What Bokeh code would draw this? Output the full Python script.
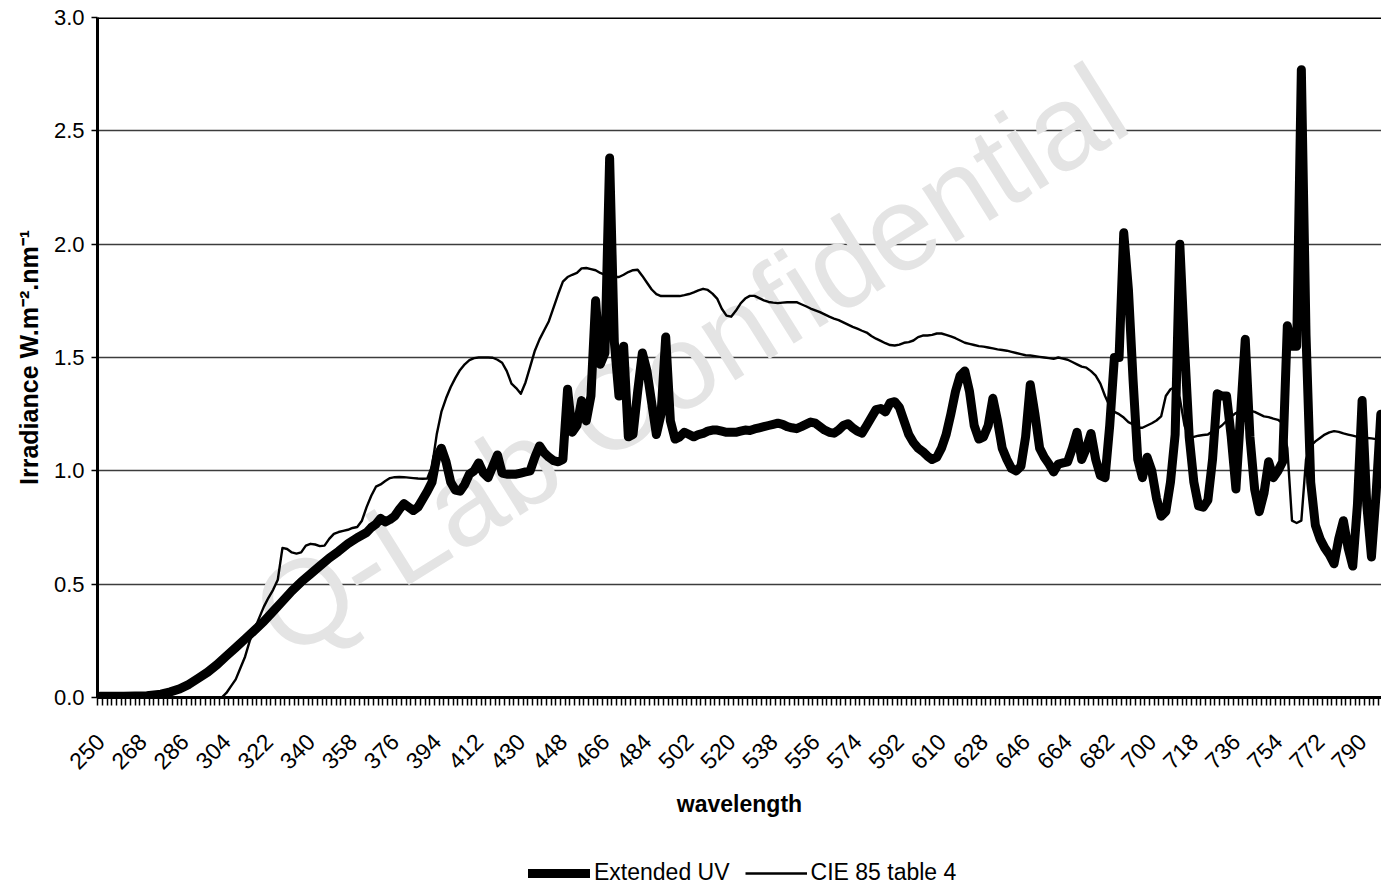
import math
from bokeh.plotting import figure
from bokeh.layouts import column
from bokeh.models import Range1d, FixedTicker, Span, Label, PrintfTickFormatter
from bokeh.embed import file_html
from bokeh.resources import INLINE

# ---------------- data ----------------
categories = list(range(250, 800, 2))          # wavelength categories (nm)
x_tick_labels = categories[::9]                 # 250, 268, ..., 790
y_ticks = [0.0, 0.5, 1.0, 1.5, 2.0, 2.5, 3.0]

ext_wl = [250, 260, 270, 276, 280, 284, 288, 292, 296, 300, 304, 308, 312, 316, 320,
          324, 328, 332, 336, 340, 344, 348, 352, 356, 360, 364, 366, 368, 370, 372,
          374, 376, 378, 380, 382, 384, 386, 388, 390, 392, 394, 396, 398, 400, 402,
          404, 406, 408, 410, 412, 414, 416, 418, 420, 422, 424, 426, 428, 430, 432,
          434, 436, 438, 440, 442, 444, 446, 448, 450, 452, 454, 456, 458, 460, 462,
          464, 466, 468, 470, 472, 474, 476, 478, 480, 482, 484, 486, 488, 490, 492,
          494, 496, 498, 500, 502, 504, 506, 508, 510, 512, 514, 516, 518, 520, 522,
          524, 526, 528, 530, 532, 534, 536, 538, 540, 542, 544, 546, 548, 550, 552,
          554, 556, 558, 560, 562, 564, 566, 568, 570, 572, 574, 576, 578, 580, 582,
          584, 586, 588, 590, 592, 594, 596, 598, 600, 602, 604, 606, 608, 610, 612,
          614, 616, 618, 620, 622, 624, 626, 628, 630, 632, 634, 636, 638, 640, 642,
          644, 646, 648, 650, 652, 654, 656, 658, 660, 662, 664, 666, 668, 670, 672,
          674, 676, 678, 680, 682, 684, 686, 688, 690, 692, 694, 696, 698, 700, 702,
          704, 706, 708, 710, 712, 714, 716, 718, 720, 722, 724, 726, 728, 730, 732,
          734, 736, 738, 740, 742, 744, 746, 748, 750, 752, 754, 756, 758, 760, 762,
          764, 766, 768, 770, 772, 774, 776, 778, 780, 782, 784, 786, 788, 790, 792,
          794, 796, 798]
ext_irr = [0.005, 0.005, 0.008, 0.015, 0.025, 0.038, 0.058, 0.085, 0.112, 0.145, 0.183, 0.22, 0.258, 0.296, 0.335,
           0.38, 0.425, 0.47, 0.51, 0.545, 0.58, 0.615, 0.645, 0.678, 0.705, 0.728, 0.75, 0.765, 0.79, 0.775,
           0.785, 0.80, 0.83, 0.855, 0.84, 0.825, 0.84, 0.875, 0.91, 0.95, 1.06, 1.10, 1.04, 0.95, 0.915,
           0.91, 0.94, 0.985, 1.0, 1.035, 0.99, 0.97, 1.02, 1.07, 0.99, 0.985, 0.985, 0.985, 0.99, 0.995,
           1.0, 1.06, 1.11, 1.08, 1.06, 1.045, 1.04, 1.05, 1.36, 1.17, 1.20, 1.31, 1.22, 1.33, 1.75,
           1.47, 1.52, 2.38, 1.57, 1.33, 1.55, 1.15, 1.16, 1.35, 1.52, 1.44, 1.30, 1.16, 1.25, 1.59,
           1.22, 1.14, 1.15, 1.17, 1.16, 1.15, 1.16, 1.165, 1.175, 1.18, 1.18, 1.175, 1.17, 1.17, 1.17,
           1.175, 1.18, 1.178, 1.185, 1.19, 1.195, 1.2, 1.205, 1.21, 1.205, 1.195, 1.19, 1.186, 1.195, 1.205,
           1.215, 1.21, 1.195, 1.18, 1.17, 1.166, 1.18, 1.2, 1.208, 1.19, 1.175, 1.166, 1.20, 1.235, 1.27,
           1.275, 1.26, 1.30, 1.305, 1.28, 1.22, 1.16, 1.125, 1.10, 1.085, 1.065, 1.05, 1.06, 1.10, 1.16,
           1.25, 1.35, 1.42, 1.44, 1.35, 1.20, 1.14, 1.15, 1.20, 1.32, 1.22, 1.10, 1.05, 1.01, 1.0,
           1.02, 1.15, 1.38, 1.25, 1.10, 1.06, 1.03, 0.995, 1.03, 1.035, 1.04, 1.10, 1.17, 1.05, 1.10,
           1.165, 1.05, 0.98, 0.97, 1.20, 1.50, 1.50, 2.05, 1.80, 1.40, 1.05, 0.97, 1.06, 1.0, 0.88,
           0.80, 0.82, 0.95, 1.16, 2.0, 1.55, 1.15, 0.95, 0.845, 0.84, 0.87, 1.05, 1.34, 1.33, 1.33,
           1.15, 0.92, 1.25, 1.58, 1.15, 0.92, 0.82, 0.90, 1.04, 0.97, 1.0, 1.04, 1.64, 1.55, 1.55,
           2.77, 1.60, 0.95, 0.76, 0.70, 0.66, 0.63, 0.59, 0.70, 0.78, 0.66, 0.58, 0.85, 1.31, 0.85,
           0.62, 0.90, 1.25]

cie_wl = [250, 300, 302, 304, 306, 308, 310, 312, 314, 316, 318, 320, 322, 324, 326,
          328, 330, 332, 334, 336, 338, 340, 342, 344, 346, 348, 350, 352, 354, 356,
          358, 360, 362, 364, 366, 368, 370, 372, 374, 376, 378, 380, 382, 384, 386,
          388, 390, 392, 394, 396, 398, 400, 402, 404, 406, 408, 410, 412, 414, 416,
          418, 420, 422, 424, 426, 428, 430, 432, 434, 436, 438, 440, 442, 444, 446,
          448, 450, 452, 454, 456, 458, 460, 462, 464, 466, 468, 470, 472, 474, 476,
          478, 480, 482, 484, 486, 488, 490, 492, 494, 496, 498, 500, 502, 504, 506,
          508, 510, 512, 514, 516, 518, 520, 522, 524, 526, 528, 530, 532, 534, 536,
          538, 540, 542, 544, 546, 548, 550, 552, 554, 556, 558, 560, 562, 564, 566,
          568, 570, 572, 574, 576, 578, 580, 582, 584, 586, 588, 590, 592, 594, 596,
          598, 600, 602, 604, 606, 608, 610, 612, 614, 616, 618, 620, 622, 624, 626,
          628, 630, 632, 634, 636, 638, 640, 642, 644, 646, 648, 650, 652, 654, 656,
          658, 660, 662, 664, 666, 668, 670, 672, 674, 676, 678, 680, 682, 684, 686,
          688, 690, 692, 694, 696, 698, 700, 702, 704, 706, 708, 710, 712, 714, 716,
          718, 720, 722, 724, 726, 728, 730, 732, 734, 736, 738, 740, 742, 744, 746,
          748, 750, 752, 754, 756, 758, 760, 762, 764, 766, 768, 770, 772, 774, 776,
          778, 780, 782, 784, 786, 788, 790, 792, 794, 796, 798]
cie_irr = [0.0, 0.0, 0.0, 0.02, 0.05, 0.08, 0.13, 0.18, 0.25, 0.30, 0.35, 0.40, 0.44, 0.475, 0.52,
           0.66, 0.655, 0.64, 0.635, 0.64, 0.67, 0.678, 0.675, 0.668, 0.67, 0.70, 0.722, 0.73, 0.735, 0.74,
           0.748, 0.752, 0.78, 0.84, 0.89, 0.93, 0.94, 0.955, 0.968, 0.972, 0.973, 0.972, 0.97, 0.968, 0.966,
           0.965, 0.966, 1.02, 1.16, 1.26, 1.32, 1.37, 1.41, 1.445, 1.47, 1.488, 1.497, 1.5, 1.5, 1.5,
           1.499, 1.49, 1.477, 1.44, 1.385, 1.365, 1.34, 1.39, 1.46, 1.53, 1.58, 1.62, 1.66, 1.72, 1.78,
           1.835, 1.855, 1.865, 1.873, 1.893, 1.895, 1.89, 1.885, 1.873, 1.865, 1.858, 1.855, 1.855, 1.865, 1.877,
           1.885, 1.887, 1.86, 1.83, 1.80, 1.78, 1.771, 1.771, 1.771, 1.771, 1.771, 1.775, 1.78, 1.787, 1.796,
           1.803, 1.798, 1.782, 1.76, 1.715, 1.685, 1.68, 1.706, 1.738, 1.76, 1.772, 1.772, 1.762, 1.752, 1.745,
           1.742, 1.74, 1.742, 1.744, 1.744, 1.744, 1.735, 1.726, 1.716, 1.708, 1.70, 1.69, 1.68, 1.672, 1.665,
           1.655, 1.645, 1.635, 1.627, 1.618, 1.61, 1.595, 1.583, 1.573, 1.563, 1.555, 1.553, 1.557, 1.565, 1.568,
           1.575, 1.59, 1.597, 1.597, 1.60, 1.606, 1.606, 1.60, 1.593, 1.585, 1.575, 1.565, 1.56, 1.555, 1.55,
           1.548, 1.544, 1.54, 1.536, 1.533, 1.53, 1.525, 1.52, 1.515, 1.51, 1.509, 1.506, 1.503, 1.50, 1.497,
           1.494, 1.50, 1.495, 1.49, 1.48, 1.47, 1.46, 1.455, 1.44, 1.42, 1.385, 1.33, 1.285, 1.26, 1.25,
           1.235, 1.215, 1.205, 1.19, 1.19, 1.20, 1.21, 1.222, 1.24, 1.33, 1.36, 1.37, 1.32, 1.20, 1.145,
           1.15, 1.155, 1.158, 1.16, 1.175, 1.185, 1.20, 1.22, 1.24, 1.255, 1.265, 1.27, 1.265, 1.26, 1.25,
           1.24, 1.237, 1.23, 1.225, 1.21, 1.10, 0.78, 0.77, 0.78, 1.05, 1.11, 1.13, 1.145, 1.16, 1.17,
           1.175, 1.172, 1.165, 1.16, 1.155, 1.15, 1.147, 1.145, 1.143, 1.14, 1.14]

series_names = ["Extended UV", "CIE 85 table 4"]
x_title = "wavelength"
y_title = "Irradiance W.m\u207b\u00b2.nm\u207b\u00b9"
watermark = "Q-Lab Confidential"

FONT = "Liberation Sans"
EXT_W = 9
CIE_W = 2.4

# ---------------- main chart ----------------
p = figure(width=1381, height=840, output_backend="svg", toolbar_location=None,
           x_range=Range1d(248.85, 798.3), y_range=Range1d(0, 3.0),
           min_border_left=97, min_border_right=0, min_border_top=17, min_border_bottom=143)
p.outline_line_color = None
p.background_fill_color = "white"
p.border_fill_color = "white"

# watermark (under everything, kept inside the plot area)
wm = Label(x=502, y=1.49, text=watermark, angle=0.56, text_align="center",
           text_baseline="middle", text_font=FONT, text_font_size="120px",
           text_color="#e4e4e4", level="underlay")
p.add_layout(wm)

p.xgrid.visible = False
p.ygrid.ticker = FixedTicker(ticks=y_ticks)
p.ygrid.grid_line_color = "#3c3c3c"
p.ygrid.grid_line_width = 1.3

p.line(ext_wl, ext_irr, line_width=EXT_W, line_color="black", line_join="round", line_cap="round")
p.line(cie_wl, cie_irr, line_width=CIE_W, line_color="black", line_join="round")

p.add_layout(Span(location=3.0, dimension="width", line_color="black", line_width=3))

ya = p.yaxis[0]
ya.ticker = FixedTicker(ticks=y_ticks)
ya.formatter = PrintfTickFormatter(format="%.1f")
ya.major_label_text_font = FONT
ya.major_label_text_font_size = "22px"
ya.major_label_text_color = "black"
ya.axis_line_width = 3
ya.axis_line_color = "black"
ya.major_tick_out = 6
ya.major_tick_in = 0
ya.major_tick_line_width = 1.5
ya.minor_tick_out = 0
ya.minor_tick_in = 0
ya.major_label_standoff = 7
ya.axis_label = y_title
ya.axis_label_text_font = FONT
ya.axis_label_text_font_size = "25px"
ya.axis_label_text_font_style = "bold"
ya.axis_label_text_color = "black"
ya.axis_label_standoff = 8

xa = p.xaxis[0]
xa.ticker = FixedTicker(ticks=x_tick_labels,
                        minor_ticks=[c - 1 for c in categories] + [categories[-1] + 1])
xa.major_label_orientation = math.pi / 4
xa.major_label_text_font = FONT
xa.major_label_text_font_size = "23px"
xa.major_label_text_color = "black"
xa.major_tick_out = 0
xa.major_tick_in = 0
xa.minor_tick_out = 8
xa.minor_tick_in = 0
xa.minor_tick_line_color = "black"
xa.minor_tick_line_width = 1.5
xa.axis_line_width = 3
xa.axis_line_color = "black"
xa.major_label_standoff = 32
xa.axis_label = x_title
xa.axis_label_text_font = FONT
xa.axis_label_text_font_size = "23px"
xa.axis_label_text_font_style = "bold"
xa.axis_label_text_color = "black"
xa.axis_label_standoff = 11

# ---------------- legend strip below the chart ----------------
q = figure(width=1381, height=46, output_backend="svg", toolbar_location=None,
           x_range=Range1d(0, 1), y_range=Range1d(0, 1),
           x_axis_location=None, y_axis_location=None,
           min_border_left=0, min_border_right=0, min_border_top=0, min_border_bottom=0)
q.outline_line_color = None
q.xgrid.visible = False
q.ygrid.visible = False
# sample lines lie outside the visible range: only their legend glyphs show
q.line([5, 6], [5, 6], line_width=EXT_W, line_color="black", line_cap="round",
       legend_label=series_names[0])
q.line([5, 6], [5, 6], line_width=CIE_W, line_color="black", legend_label=series_names[1])
lg = q.legend[0]
lg.location = (431, 0)
lg.orientation = "horizontal"
lg.label_text_font = FONT
lg.label_text_font_size = "23px"
lg.label_text_color = "black"
lg.glyph_width = 62
lg.glyph_height = 26
lg.label_height = 26
lg.label_standoff = 4
lg.spacing = 15
lg.padding = 0
lg.margin = 0
lg.border_line_color = None
lg.background_fill_alpha = 0

layout = column(p, q, spacing=0)
open("out.html", "w").write(file_html(layout, INLINE))
